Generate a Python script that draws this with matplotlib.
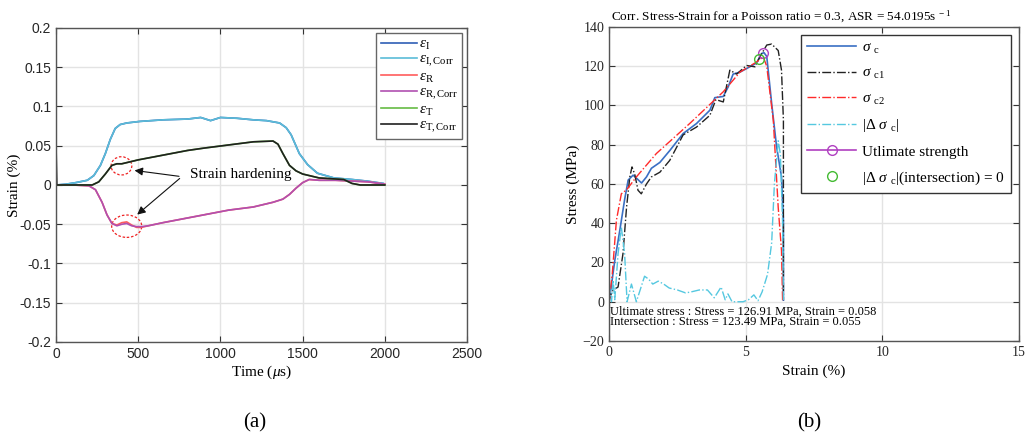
import matplotlib
matplotlib.use("Agg")
import matplotlib.pyplot as plt
from matplotlib.patches import Ellipse
import numpy as np

plt.rcParams['font.family'] = ['Liberation Serif', 'DejaVu Serif']
plt.rcParams['mathtext.fontset'] = 'custom'
plt.rcParams['mathtext.rm'] = 'Liberation Serif'
plt.rcParams['mathtext.it'] = 'Liberation Serif:italic'

# ---- panel (a): strain signals vs time ----
t_I = [0, 60, 120, 190, 230, 270, 300, 330, 360, 390, 430, 510, 650, 800, 880, 940, 1000, 1100, 1200, 1280, 1360, 1400, 1430, 1480, 1530, 1590, 1690, 1800, 1890, 1990]
eps_I = [0.0, 0.001, 0.003, 0.006, 0.012, 0.025, 0.040, 0.058, 0.072, 0.077, 0.079, 0.081, 0.083, 0.084, 0.086, 0.082, 0.086, 0.085, 0.083, 0.082, 0.079, 0.073, 0.064, 0.040, 0.026, 0.015, 0.009, 0.007, 0.005, 0.002]
eps_I_corr = [0.0, 0.001, 0.003, 0.006, 0.012, 0.025, 0.040, 0.058, 0.072, 0.077, 0.079, 0.081, 0.083, 0.084, 0.086, 0.082, 0.086, 0.085, 0.083, 0.082, 0.079, 0.073, 0.064, 0.040, 0.026, 0.015, 0.009, 0.007, 0.005, 0.002]

t_R = [0, 100, 200, 240, 280, 310, 340, 370, 400, 430, 460, 490, 520, 560, 650, 750, 850, 950, 1050, 1200, 1320, 1380, 1420, 1460, 1500, 1540, 1600, 1700, 1800, 1900, 2000]
eps_R = [0.0, 0.0, -0.001, -0.006, -0.022, -0.038, -0.049, -0.051, -0.048, -0.047, -0.051, -0.054, -0.054, -0.052, -0.048, -0.044, -0.040, -0.036, -0.032, -0.028, -0.022, -0.018, -0.012, -0.004, 0.003, 0.007, 0.006, 0.006, 0.005, 0.004, 0.001]
eps_R_corr = [0.0, 0.0, -0.001, -0.006, -0.022, -0.038, -0.049, -0.052, -0.050, -0.049, -0.052, -0.053, -0.053, -0.052, -0.048, -0.044, -0.040, -0.036, -0.032, -0.028, -0.022, -0.018, -0.012, -0.004, 0.003, 0.007, 0.006, 0.006, 0.005, 0.004, 0.001]

t_T = [0, 5, 100, 220, 260, 300, 340, 370, 400, 440, 500, 600, 700, 800, 900, 1050, 1200, 1320, 1350, 1380, 1420, 1460, 1500, 1600, 1750, 1800, 1850, 2000]
eps_T = [0.0, 0.0, 0.0, 0.0, 0.004, 0.014, 0.025, 0.027, 0.027, 0.029, 0.032, 0.036, 0.040, 0.044, 0.047, 0.051, 0.055, 0.056, 0.052, 0.040, 0.025, 0.018, 0.014, 0.009, 0.007, 0.002, 0.0, 0.0]
eps_T_corr = [0.05, 0.0, 0.0, 0.0, 0.004, 0.014, 0.025, 0.027, 0.027, 0.029, 0.032, 0.036, 0.040, 0.044, 0.047, 0.051, 0.055, 0.056, 0.052, 0.040, 0.025, 0.018, 0.014, 0.009, 0.007, 0.002, 0.0, 0.0]

# ---- panel (b): stress-strain ----
strain_c = [0.0, 0.03, 0.21, 0.39, 0.57, 0.70, 0.88, 1.0, 1.19, 1.37, 1.55, 1.86, 2.22, 2.71, 3.2, 3.69, 3.87, 4.18, 4.36, 4.54, 4.79, 5.15, 5.4, 5.58, 5.67, 5.77, 5.95, 6.13, 6.31, 6.38, 6.38]
stress_c = [0.0, 2.5, 21, 36, 52, 62, 64.5, 63, 60.5, 63.6, 68, 71, 77, 85.7, 90.8, 97.6, 104, 104.6, 109.5, 116, 117, 119.7, 121.7, 126.5, 126.9, 125, 101, 79, 63.6, 41.5, 0.8]

strain_c1 = [0.0, 0.03, 0.15, 0.33, 0.51, 0.64, 0.76, 0.84, 0.94, 1.06, 1.18, 1.37, 1.55, 1.86, 2.22, 2.71, 3.2, 3.69, 3.91, 4.18, 4.42, 4.67, 5.03, 5.34, 5.52, 5.77, 5.95, 6.19, 6.31, 6.38, 6.38]
stress_c1 = [0.0, 2.5, 6, 7.5, 24.5, 48, 63.6, 68.7, 65, 56.8, 55, 60, 63.6, 66, 72, 85, 89, 95, 103, 101.8, 118, 116, 120.4, 119.7, 124.8, 130.8, 131.3, 128, 118, 92.5, 0.8]

strain_c2 = [0.0, 0.12, 0.27, 0.45, 0.64, 1.0, 1.73, 2.95, 4.18, 4.79, 5.4, 5.64, 5.77, 6.01, 6.19, 6.31, 6.35]
stress_c2 = [-1.0, 14.4, 41.5, 55, 57, 63.6, 75.5, 90.8, 107, 117, 122.2, 124.8, 120, 92.5, 48, 26, 0.8]

strain_d = [0.0, 0.09, 0.15, 0.21, 0.33, 0.45, 0.57, 0.66, 0.82, 1.0, 1.3, 1.45, 1.6, 1.8, 2.0, 2.2, 2.5, 2.8, 3.0, 3.3, 3.6, 3.85, 4.1, 4.25, 4.35, 4.5, 4.7, 4.9, 5.1, 5.3, 5.45, 5.6, 5.8, 5.95, 6.05, 6.19, 6.27, 6.35, 6.38]
stress_d = [9, 0, 11, 1, 24.5, 38, 24.5, 0, 9, 0, 13, 11.5, 9, 10.5, 9, 7, 6, 4.5, 5, 6, 6, 2, 7.5, 1, 4, 0, 0, 0, 1, 3.5, 0.5, 5, 14, 30, 60, 82, 75, 40, 0]

ult_point = (5.65, 126.91)
int_point = (5.5, 123.49)

fig = plt.figure(figsize=(10.26, 4.36), dpi=100)
ax1 = fig.add_axes([0.0546, 0.2156, 0.4006, 0.7202])
ax2 = fig.add_axes([0.5936, 0.2179, 0.3996, 0.7202])

grid_kw = dict(color='#e3e3e3', linewidth=1.0)
for ax in (ax1, ax2):
    ax.grid(True, **grid_kw)
    ax.set_axisbelow(True)
    for s in ax.spines.values():
        s.set_color('#555555')
        s.set_linewidth(1.0)
    ax.tick_params(direction='in', top=True, right=True, length=4,
                   colors='#333333', labelcolor='#262626', labelsize=10)

# panel (a)
ax1.plot(t_I, eps_I, color='#2f5fb5', lw=1.2, label=r'$\varepsilon_{\rm I}$')
ax1.plot(t_I, eps_I_corr, color='#5bbcd8', lw=1.2, label=r'$\varepsilon_{\rm I,Corr}$')
ax1.plot(t_R, eps_R, color='#ff5c5c', lw=1.2, label=r'$\varepsilon_{\rm R}$')
ax1.plot(t_R, eps_R_corr, color='#b050b0', lw=1.2, label=r'$\varepsilon_{\rm R,Corr}$')
ax1.plot(t_T, eps_T, color='#66bb44', lw=1.2, label=r'$\varepsilon_{\rm T}$')
ax1.plot(t_T, eps_T_corr, color='#202020', lw=1.2, label=r'$\varepsilon_{\rm T,Corr}$')

ax1.set_xlim(0, 2500)
ax1.set_ylim(-0.2, 0.2)
ax1.set_xticks(np.arange(0, 2501, 500))
ax1.set_yticks(np.arange(-0.2, 0.201, 0.05))
ax1.set_yticklabels(['-0.2', '-0.15', '-0.1', '-0.05', '0', '0.05', '0.1', '0.15', '0.2'])
for lab in ax1.get_xticklabels() + ax1.get_yticklabels():
    lab.set_family(['Liberation Sans', 'DejaVu Sans'])
ax1.set_xlabel(r'Time ($\mu$s)', fontsize=11, labelpad=2)
ax1.set_ylabel('Strain (%)', fontsize=11, labelpad=-1)

leg1 = ax1.legend(loc='upper right', fontsize=11, handlelength=2.4, handletextpad=0.1,
                  labelspacing=0.05, borderpad=0.3, fancybox=False, framealpha=1,
                  edgecolor='#666666', borderaxespad=0.3)
leg1.get_frame().set_linewidth(1.0)

ax1.add_patch(Ellipse((398, 0.0244), 126, 0.0232, fill=False, ec='#ee2222', ls=(0, (2, 1.5)), lw=0.9))
ax1.add_patch(Ellipse((430, -0.0525), 183, 0.0285, fill=False, ec='#ee2222', ls=(0, (2, 1.5)), lw=0.9))
ax1.text(815, 0.0135, 'Strain hardening', fontsize=11, va='center', ha='left')
arr = dict(arrowstyle='-|>', color='#111111', lw=0.8, mutation_scale=12)
ax1.annotate('', xy=(461, 0.019), xytext=(765, 0.0106), arrowprops=arr)
ax1.annotate('', xy=(481, -0.040), xytext=(765, 0.0106), arrowprops=arr)

# panel (b)
ax2.plot(strain_c, stress_c, color='#3a6fc4', lw=1.2, label=r'$\sigma$ $_{\rm c}$')
ax2.plot(strain_c1, stress_c1, color='#222222', lw=1.0, ls='-.', label=r'$\sigma$ $_{\rm c1}$')
ax2.plot(strain_c2, stress_c2, color='#ff2a2a', lw=1.0, ls='-.', label=r'$\sigma$ $_{\rm c2}$')
ax2.plot(strain_d, stress_d, color='#55c8e0', lw=1.0, ls='-.', label=r'$|\Delta$ $\sigma$ $_{\rm c}|$')
ax2.plot([ult_point[0]], [ult_point[1]], color='#b040c0', marker='o', mfc='none', ms=7, lw=1.2,
         label='Utlimate strength')
ax2.plot([int_point[0]], [int_point[1]], ls='none', color='#44bb33', marker='o', mfc='none', ms=7,
         label=r'$|\Delta$ $\sigma$ $_{\rm c}|$(intersection) = 0')

ax2.set_xlim(0, 15)
ax2.set_ylim(-20, 140)
ax2.set_xticks([0, 5, 10, 15])
ax2.set_yticks(np.arange(-20, 141, 20))
ax2.set_xlabel('Strain (%)', fontsize=11, labelpad=4)
ax2.set_ylabel('Stress (MPa)', fontsize=11, labelpad=2)
ax2.set_title(r'Corr. Stress-Strain for a Poisson ratio = 0.3, ASR = 54.0195s$^{\rm\ -1}$',
              fontsize=9.5, pad=5, loc='left', x=0.005)
ax2.text(0.05, -7.7, 'Ultimate stress : Stress = 126.91 MPa, Strain = 0.058\n'
         'Intersection : Stress = 123.49 MPa, Strain = 0.055',
         fontsize=9, va='center', linespacing=0.85)

leg2 = ax2.legend(loc='upper right', fontsize=11, handlelength=3.2, handletextpad=0.4,
                  labelspacing=0.7, borderpad=0.4, fancybox=False, framealpha=1,
                  edgecolor='#333333', borderaxespad=0.5)
leg2.get_frame().set_linewidth(1.0)

fig.text(0.2485, 0.02, '(a)', fontsize=15, ha='center')
fig.text(0.789, 0.02, '(b)', fontsize=15, ha='center')

fig.savefig('out.png', dpi=100)
